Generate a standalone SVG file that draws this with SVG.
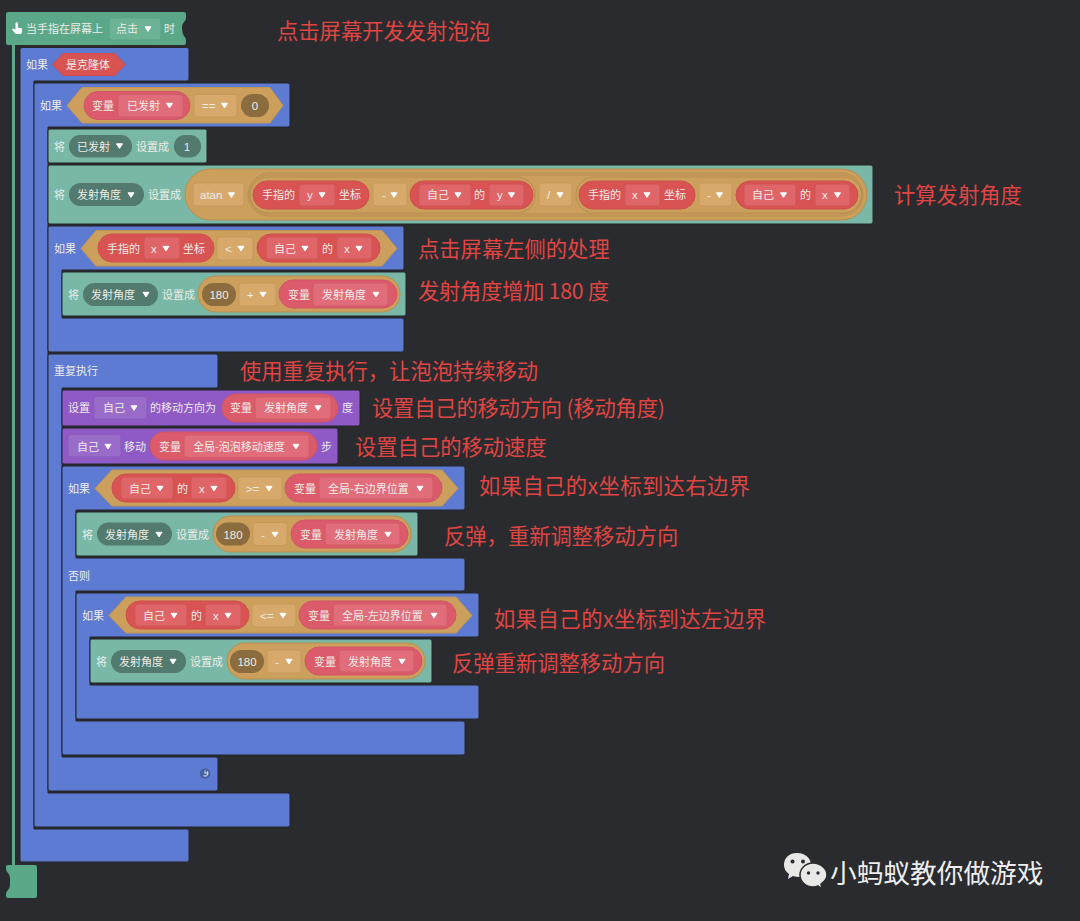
<svg xmlns="http://www.w3.org/2000/svg" width="1080" height="921" viewBox="0 0 1080 921">
<style>
text{font-family:"Noto Sans CJK SC","Noto Sans",sans-serif;font-size:11px;fill:#ecece8}
.lat{font-family:"Liberation Sans","Noto Sans",sans-serif;font-size:11.5px}
.c{text-anchor:middle}
.note{font-size:21.3px;fill:#e04543}
.mark{font-size:26.7px;fill:#eeeeee}
.blue{fill:#5d7bd2;stroke:#24262c;stroke-width:1}
.teal{fill:#79b8a6;stroke:#24262c;stroke-width:1}
.purple{fill:#8f5ac6;stroke:#24262c;stroke-width:1}
.green{fill:#5aa888}
.hex{fill:#cc9f5c;stroke:#c09552;stroke-width:1;stroke-linejoin:round}
.hexr{fill:#d95353;stroke:#cc4e4e;stroke-width:1;stroke-linejoin:round}
.op{fill:#cc9f5c;stroke:#b88e50;stroke-width:1}
.ring{fill:none;stroke:#b88e50;stroke-width:1}
.red{fill:#d95353;stroke:#cc4e4e;stroke-width:1}
.pink{fill:#dc5b6b;stroke:#d05565;stroke-width:1}
.ddr{fill:#e06568;stroke:#cd5659;stroke-width:1}
.ddp{fill:#e26d7a;stroke:#d05c69;stroke-width:1}
.ddo{fill:#d7aa6c;stroke:#c49a5a;stroke-width:1}
.ddu{fill:#9a6cc9;stroke:#8a5cbb;stroke-width:1}
.ddg{fill:#6bb394;stroke:#5aa586;stroke-width:1}
.var{fill:#527a6e}
.val{fill:#8a6c3e}
#tri{fill:#fff;stroke:#fff;stroke-width:1;stroke-linejoin:round}
</style>
<defs><path id="tri" d="M-3,-2.200H3L0,2.400Z"/></defs>
<rect width="1080" height="921" fill="#2a2b2f"/>

<g id="connectors">
<rect x="12" y="44" width="3" height="823" class="green"/>
</g>

<g id="hat">
<path class="green" d="M8,12H184Q186,12 186,14V18Q186,20 184,22Q182,24 182,28Q182,33 184,36Q186,38 186,40V43Q186,45 184,45H8Q6,45 6,43V14Q6,12 8,12Z"/>
<path fill="#fff" d="M15.5,23.500a1.200,1.200 0 0 1 2.400,0V27.600l3.400,.7q1,.3 .9,1.300l-.4,3.200q-.2,1.200 -1.400,1.200H16.400q-.9,0 -1.400,-.8L12.400,30q-.6,-1.300 .7,-1.500l2.400,.9Z"/>
<text x="26" y="33">当手指在屏幕上</text>
<rect class="ddg" x="109" y="18" width="52" height="22" rx="3"/>
<text x="116" y="33">点击</text><use href="#tri" x="148" y="29"/>
<text x="164" y="33">时</text>
</g>

<g id="if-clone">
<path class="blue" d="M22,47.500H187a2,2 0 0 1 2,2V79a2,2 0 0 1 -2,2H34V829H187a2,2 0 0 1 2,2V860a2,2 0 0 1 -2,2H22a2,2 0 0 1 -2,-2V49.500a2,2 0 0 1 2,-2Z"/>
<text x="26" y="69">如果</text>
<path class="hexr" d="M52.500,64.500L63,53.500H115L125,64.500L115,75.500H63Z"/>
<text x="66" y="69">是克隆体</text>
</g>

<g id="if-fired">
<path class="blue" d="M36,83H288a2,2 0 0 1 2,2V125a2,2 0 0 1 -2,2H48V793H288a2,2 0 0 1 2,2V825a2,2 0 0 1 -2,2H36a2,2 0 0 1 -2,-2V85a2,2 0 0 1 2,-2Z"/>
<text x="40" y="110">如果</text>
<path class="hex" d="M67,105.500L82,87.500H270L283,105.500L270,123H82Z"/>
<rect class="pink" x="84" y="91.500" width="106" height="28" rx="14"/>
<text x="92" y="110">变量</text>
<rect class="ddp" x="118" y="94.500" width="65" height="22.500" rx="3"/>
<text x="127" y="110">已发射</text><use href="#tri" x="169.500" y="105.500"/>
<rect class="ddo" x="194" y="94.500" width="43" height="22.500" rx="3"/>
<text class="lat" x="202" y="110">==</text><use href="#tri" x="224.500" y="105.500"/>
<rect class="val" x="241" y="94" width="28" height="23" rx="11.500"/>
<text class="lat c" x="255" y="110">0</text>
</g>

<g id="set-fired">
<rect class="teal" x="48" y="129" width="159" height="34" rx="2"/>
<text x="54" y="151">将</text>
<rect class="var" x="69" y="135" width="63" height="22.500" rx="11"/>
<text x="77" y="151">已发射</text><use href="#tri" x="119.500" y="146"/>
<text x="136" y="151">设置成</text>
<rect class="var" x="174" y="135" width="27" height="22.500" rx="11"/>
<text class="lat c" x="187" y="151">1</text>
</g>

<g id="set-angle">
<rect class="teal" x="48" y="165" width="825" height="59" rx="2"/>
<text x="54" y="199">将</text>
<rect class="var" x="69" y="183" width="75" height="23" rx="11.500"/>
<text x="77" y="199">发射角度</text><use href="#tri" x="131" y="195"/>
<text x="148" y="199">设置成</text>
<rect class="op" x="185" y="169" width="682" height="51" rx="25.500"/>
<rect class="ddo" x="193" y="183" width="51" height="23" rx="3"/>
<text class="lat" x="200" y="199">atan</text><use href="#tri" x="231.500" y="195"/>
<rect class="ring" x="248" y="173" width="615" height="43" rx="21.500"/>
<rect class="ring" x="249.500" y="175" width="612" height="39" rx="19.500"/>
<rect class="ring" x="250" y="177" width="285" height="36" rx="18"/>
<rect class="ring" x="576" y="177" width="286" height="36" rx="18"/>
<rect class="red" x="253" y="181" width="116" height="28" rx="14"/>
<text x="262" y="199">手指的</text>
<rect class="ddr" x="299" y="184" width="36" height="22" rx="3"/>
<text class="lat" x="307" y="199">y</text><use href="#tri" x="322" y="195"/>
<text x="339" y="199">坐标</text>
<rect class="ddo" x="373" y="183" width="34" height="23" rx="3"/>
<text class="lat" x="382" y="199">-</text><use href="#tri" x="394" y="195"/>
<rect class="red" x="410" y="181" width="123" height="28" rx="14"/>
<rect class="ddr" x="419" y="184" width="52" height="22" rx="3"/>
<text x="427" y="199">自己</text><use href="#tri" x="458" y="195"/>
<text x="474" y="199">的</text>
<rect class="ddr" x="489" y="184" width="35" height="22" rx="3"/>
<text class="lat" x="497" y="199">y</text><use href="#tri" x="511.500" y="195"/>
<rect class="ddo" x="539" y="183" width="33" height="23" rx="3"/>
<text class="lat" x="547" y="199">/</text><use href="#tri" x="560" y="195"/>
<rect class="red" x="579" y="181" width="116" height="28" rx="14"/>
<text x="588" y="199">手指的</text>
<rect class="ddr" x="625" y="184" width="35" height="22" rx="3"/>
<text class="lat" x="632" y="199">x</text><use href="#tri" x="647" y="195"/>
<text x="664" y="199">坐标</text>
<rect class="ddo" x="699" y="183" width="33" height="23" rx="3"/>
<text class="lat" x="707" y="199">-</text><use href="#tri" x="719.500" y="195"/>
<rect class="red" x="736" y="181" width="122" height="28" rx="14"/>
<rect class="ddr" x="744" y="184" width="52" height="22" rx="3"/>
<text x="752" y="199">自己</text><use href="#tri" x="783.500" y="195"/>
<text x="800" y="199">的</text>
<rect class="ddr" x="815" y="184" width="35" height="22" rx="3"/>
<text class="lat" x="822" y="199">x</text><use href="#tri" x="837.500" y="195"/>
</g>

<g id="if-left">
<path class="blue" d="M50,226H402a2,2 0 0 1 2,2V268a2,2 0 0 1 -2,2H62V318H402a2,2 0 0 1 2,2V350a2,2 0 0 1 -2,2H50a2,2 0 0 1 -2,-2V228a2,2 0 0 1 2,-2Z"/>
<text x="54" y="253">如果</text>
<path class="hex" d="M81,248.500L96,230.500H382L397,248.500L382,266H96Z"/>
<rect class="red" x="98" y="234" width="116" height="28" rx="14"/>
<text x="107" y="253">手指的</text>
<rect class="ddr" x="144" y="237" width="36" height="22" rx="3"/>
<text class="lat" x="151" y="253">x</text><use href="#tri" x="166" y="248.500"/>
<text x="183" y="253">坐标</text>
<rect class="ddo" x="217" y="237" width="36" height="23" rx="3"/>
<text class="lat" x="225" y="253">&lt;</text><use href="#tri" x="241" y="248.500"/>
<rect class="red" x="257" y="234" width="123" height="28" rx="14"/>
<rect class="ddr" x="266" y="237" width="52" height="22" rx="3"/>
<text x="274" y="253">自己</text><use href="#tri" x="305" y="248.500"/>
<text x="322" y="253">的</text>
<rect class="ddr" x="337" y="237" width="35" height="22" rx="3"/>
<text class="lat" x="344" y="253">x</text><use href="#tri" x="359" y="248.500"/>
</g>

<g id="set-add180">
<rect class="teal" x="62" y="272" width="344" height="44" rx="2"/>
<text x="68" y="299">将</text>
<rect class="var" x="83" y="283" width="75" height="23" rx="11.500"/>
<text x="91" y="299">发射角度</text><use href="#tri" x="146" y="294.500"/>
<text x="162" y="299">设置成</text>
<rect class="op" x="198" y="276" width="202" height="36" rx="18"/>
<rect class="val" x="202" y="283" width="34" height="23" rx="11.500"/>
<text class="lat c" x="219" y="299">180</text>
<rect class="ddo" x="239" y="283" width="37" height="23" rx="3"/>
<text class="lat" x="247" y="299">+</text><use href="#tri" x="263" y="294.500"/>
<rect class="pink" x="279" y="280" width="118" height="28" rx="14"/>
<text x="288" y="299">变量</text>
<rect class="ddp" x="313" y="283" width="75" height="23" rx="3"/>
<text x="322" y="299">发射角度</text><use href="#tri" x="376" y="294.500"/>
</g>

<g id="repeat">
<path class="blue" d="M50,354H216a2,2 0 0 1 2,2V386a2,2 0 0 1 -2,2H62V757H216a2,2 0 0 1 2,2V789a2,2 0 0 1 -2,2H50a2,2 0 0 1 -2,-2V356a2,2 0 0 1 2,-2Z"/>
<text x="54" y="375">重复执行</text>
<circle cx="205" cy="773.500" r="5.200" fill="#46619f"/>
<path fill="none" stroke="#c6d0ea" stroke-width="1.100" d="M207,771.500a2.600,2.600 0 1 1 -3.600,3.800M205,770.500v2.600h2.400"/>
</g>

<g id="set-direction">
<rect class="purple" x="62" y="390" width="298" height="36" rx="2"/>
<text x="68" y="412">设置</text>
<rect class="ddu" x="94" y="396.500" width="53" height="22.500" rx="3"/>
<text x="103" y="412">自己</text><use href="#tri" x="134" y="408"/>
<text x="150" y="412">的移动方向为</text>
<rect class="pink" x="222" y="394" width="116" height="28" rx="14"/>
<text x="230" y="412">变量</text>
<rect class="ddp" x="255" y="397" width="76" height="22" rx="3"/>
<text x="264" y="412">发射角度</text><use href="#tri" x="318" y="408"/>
<text x="342" y="412">度</text>
</g>

<g id="move">
<rect class="purple" x="62" y="428" width="276" height="36" rx="2"/>
<rect class="ddu" x="68" y="434.500" width="53" height="22.500" rx="3"/>
<text x="77" y="451">自己</text><use href="#tri" x="108" y="446.500"/>
<text x="124" y="451">移动</text>
<rect class="pink" x="150" y="432" width="167" height="28" rx="14"/>
<text x="159" y="451">变量</text>
<rect class="ddp" x="184" y="435" width="125" height="22.500" rx="3"/>
<text x="193" y="451">全局-泡泡移动速度</text><use href="#tri" x="296" y="446.500"/>
<text x="321" y="451">步</text>
</g>

<g id="if-right">
<path class="blue" d="M64,466H463a2,2 0 0 1 2,2V508a2,2 0 0 1 -2,2H76V558H463a2,2 0 0 1 2,2V589a2,2 0 0 1 -2,2H76V721H463a2,2 0 0 1 2,2V753a2,2 0 0 1 -2,2H64a2,2 0 0 1 -2,-2V468a2,2 0 0 1 2,-2Z"/>
<text x="68" y="493">如果</text>
<path class="hex" d="M95,488.500L112,470H442L458,488.500L442,506H112Z"/>
<rect class="red" x="112" y="474" width="123" height="28" rx="14"/>
<rect class="ddr" x="121" y="477" width="52" height="22" rx="3"/>
<text x="129" y="493">自己</text><use href="#tri" x="160" y="488.500"/>
<text x="177" y="493">的</text>
<rect class="ddr" x="191" y="477" width="36" height="22" rx="3"/>
<text class="lat" x="199" y="493">x</text><use href="#tri" x="214" y="488.500"/>
<rect class="ddo" x="238" y="477" width="44" height="23" rx="3"/>
<text class="lat" x="246" y="493">&gt;=</text><use href="#tri" x="269" y="488.500"/>
<rect class="pink" x="285" y="474" width="157" height="28" rx="14"/>
<text x="294" y="493">变量</text>
<rect class="ddp" x="319" y="477" width="114" height="22" rx="3"/>
<text x="328" y="493">全局-右边界位置</text><use href="#tri" x="420" y="488.500"/>
<text x="68" y="580">否则</text>
</g>

<g id="set-bounce-right">
<rect class="teal" x="76" y="512" width="342" height="44" rx="2"/>
<text x="82" y="539">将</text>
<rect class="var" x="97" y="522.500" width="75" height="23" rx="11.500"/>
<text x="105" y="539">发射角度</text><use href="#tri" x="159" y="534.500"/>
<text x="176" y="539">设置成</text>
<rect class="op" x="213" y="516" width="198" height="36" rx="18"/>
<rect class="val" x="216" y="522.500" width="34" height="23" rx="11.500"/>
<text class="lat c" x="233" y="539">180</text>
<rect class="ddo" x="253" y="522.500" width="34" height="23" rx="3"/>
<text class="lat" x="261" y="539">-</text><use href="#tri" x="275" y="534.500"/>
<rect class="pink" x="291" y="520" width="117" height="28" rx="14"/>
<text x="300" y="539">变量</text>
<rect class="ddp" x="325" y="523" width="75" height="22" rx="3"/>
<text x="334" y="539">发射角度</text><use href="#tri" x="388" y="534.500"/>
</g>

<g id="if-left-edge">
<path class="blue" d="M78,593H477a2,2 0 0 1 2,2V635a2,2 0 0 1 -2,2H90V685H477a2,2 0 0 1 2,2V717a2,2 0 0 1 -2,2H78a2,2 0 0 1 -2,-2V595a2,2 0 0 1 2,-2Z"/>
<text x="82" y="620">如果</text>
<path class="hex" d="M109,615.500L126,597H456L472,615.500L456,633H126Z"/>
<rect class="red" x="126" y="601" width="123" height="28" rx="14"/>
<rect class="ddr" x="135" y="604" width="52" height="22" rx="3"/>
<text x="143" y="620">自己</text><use href="#tri" x="174" y="615.500"/>
<text x="191" y="620">的</text>
<rect class="ddr" x="205" y="604" width="36" height="22" rx="3"/>
<text class="lat" x="213" y="620">x</text><use href="#tri" x="228" y="615.500"/>
<rect class="ddo" x="252" y="604" width="44" height="23" rx="3"/>
<text class="lat" x="260" y="620">&lt;=</text><use href="#tri" x="283" y="615.500"/>
<rect class="pink" x="299" y="601" width="157" height="28" rx="14"/>
<text x="308" y="620">变量</text>
<rect class="ddp" x="333" y="604" width="114" height="22" rx="3"/>
<text x="342" y="620">全局-左边界位置</text><use href="#tri" x="434" y="615.500"/>
</g>

<g id="set-bounce-left">
<rect class="teal" x="90" y="639" width="342" height="44" rx="2"/>
<text x="96" y="666">将</text>
<rect class="var" x="111" y="650" width="75" height="23" rx="11.500"/>
<text x="119" y="666">发射角度</text><use href="#tri" x="173" y="661.500"/>
<text x="190" y="666">设置成</text>
<rect class="op" x="227" y="643" width="198" height="36" rx="18"/>
<rect class="val" x="230" y="650" width="34" height="23" rx="11.500"/>
<text class="lat c" x="247" y="666">180</text>
<rect class="ddo" x="267" y="650" width="34" height="23" rx="3"/>
<text class="lat" x="275" y="666">-</text><use href="#tri" x="289" y="661.500"/>
<rect class="pink" x="305" y="647" width="117" height="28" rx="14"/>
<text x="314" y="666">变量</text>
<rect class="ddp" x="339" y="650" width="75" height="22" rx="3"/>
<text x="348" y="666">发射角度</text><use href="#tri" x="402" y="661.500"/>
</g>

<g id="foot">
<path class="green" d="M8,865H35Q37,865 37,867V896Q37,898 35,898H8Q6,898 6,896V894Q6,892 8,890Q10,888 10,885V878Q10,875 8,873Q6,871 6,869V867Q6,865 8,865Z"/>
</g>

<g id="notes">
<text class="note" x="277" y="39">点击屏幕开发发射泡泡</text>
<text class="note" x="894" y="203">计算发射角度</text>
<text class="note" x="418" y="257">点击屏幕左侧的处理</text>
<text class="note" x="418" y="299" textLength="191">发射角度增加 180 度</text>
<text class="note" x="240" y="379">使用重复执行，让泡泡持续移动</text>
<text class="note" x="372" y="416" textLength="293">设置自己的移动方向 (移动角度)</text>
<text class="note" x="355" y="455">设置自己的移动速度</text>
<text class="note" x="479" y="494" textLength="271">如果自己的x坐标到达右边界</text>
<text class="note" x="444" y="544">反弹，重新调整移动方向</text>
<text class="note" x="494" y="627" textLength="272">如果自己的x坐标到达左边界</text>
<text class="note" x="452" y="671">反弹重新调整移动方向</text>
</g>

<g id="watermark">
<path fill="#e8e8e6" d="M797,853C788,853 784,859 784,865C784,869 786,872 789,874L788,879L793,876Q796,877 800,877C806,877 811,871 811,865C811,859 806,853 797,853Z"/>
<path fill="#e8e8e6" stroke="#2a2b2f" stroke-width="1.500" d="M813,863C805,863 800,869 800,875C800,882 806,887 813,887Q816,887 818,886L822,889L821,884C824,882 827,879 827,875C827,869 821,863 813,863Z"/>
<circle cx="792.500" cy="861.500" r="2" fill="#2a2b2f"/><circle cx="803" cy="861.500" r="2" fill="#2a2b2f"/>
<circle cx="808.500" cy="873" r="1.700" fill="#2a2b2f"/><circle cx="818" cy="873" r="1.700" fill="#2a2b2f"/>
<text class="mark" x="830" y="883">小蚂蚁教你做游戏</text>
</g>
</svg>
